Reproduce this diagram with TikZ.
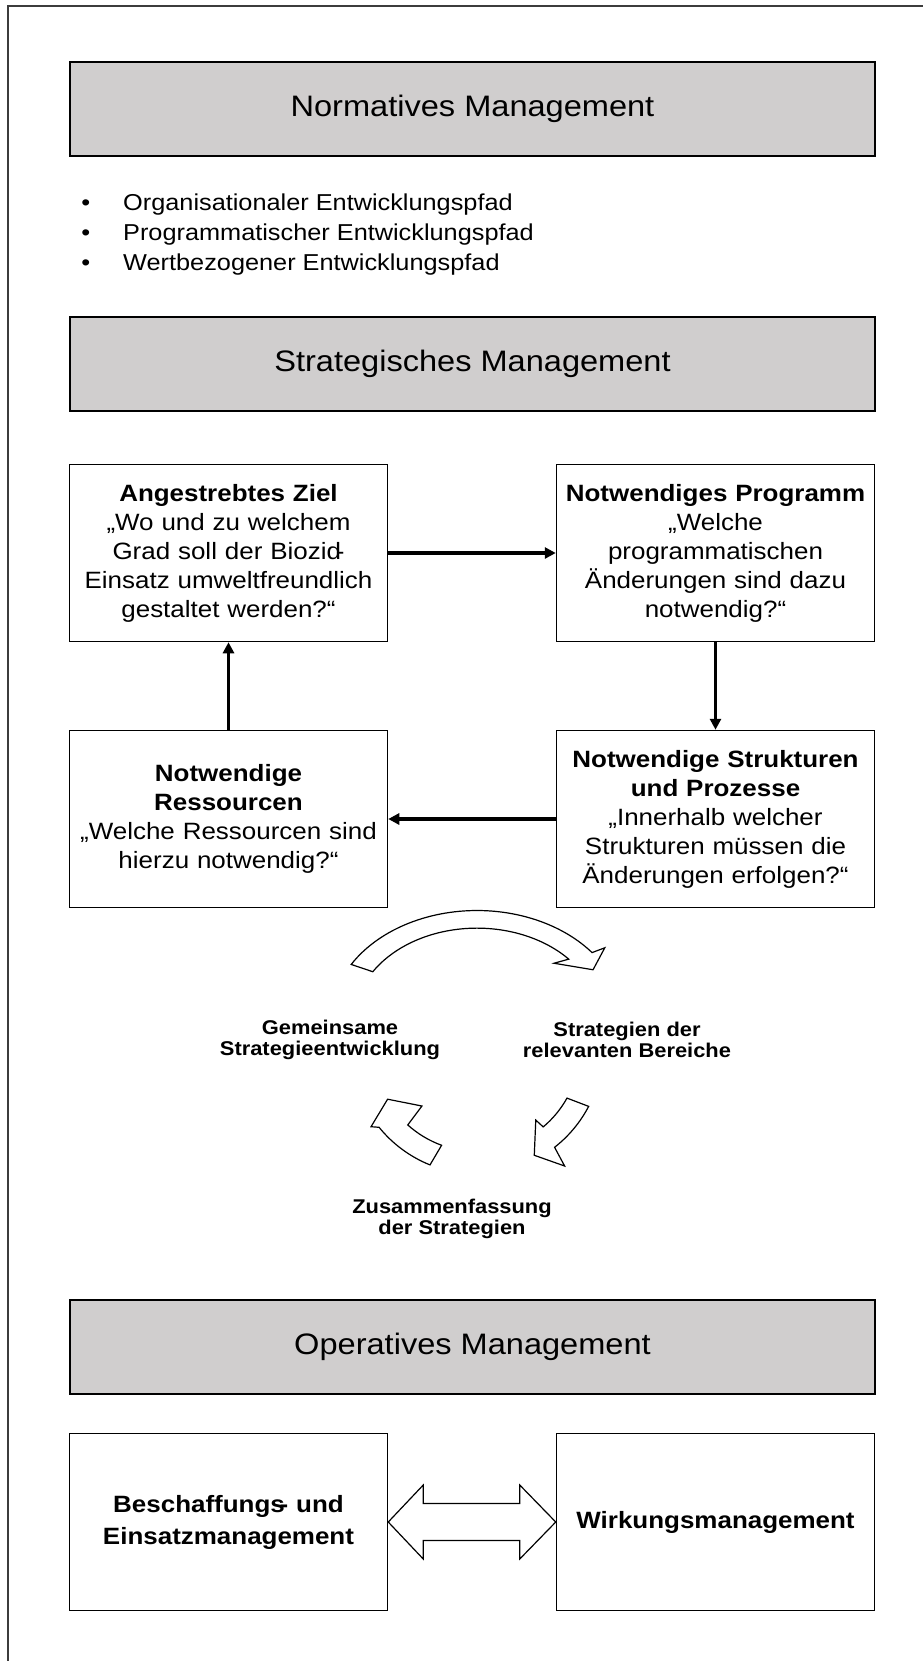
\documentclass[tikz,border=0pt]{standalone}
\usepackage{fontspec}
\setmainfont{Liberation Sans}[FakeStretch=1.1]
\usepackage{tikz}
\usetikzlibrary{arrows.meta,calc}
\definecolor{headgray}{RGB}{208,206,206}
\definecolor{framegray}{RGB}{60,60,60}
\newcommand{\ovhy}{\kern-0.22em-}

\begin{document}
\begin{tikzpicture}[x=1pt, y=-1pt, >={Triangle[length=11pt,width=11pt]},
        headbox/.style={draw, fill=headgray, line width=1.5pt, minimum width=805pt, minimum height=94pt, font=\fontsize{29.6}{35}\selectfont},
        infobox/.style={draw, line width=1.5pt, minimum width=318pt, minimum height=177pt, text width=310pt, align=center, inner sep=0pt, font=\fontsize{23.6}{29}\selectfont},
        pathitem/.style={anchor=base west, inner sep=0pt, font=\fontsize{23}{30}\selectfont},
        cyclabel/.style={align=center, inner sep=0pt, font=\fontsize{19.9}{21.2}\selectfont\bfseries},
        flow/.style={->, line width=3.2pt},
        bigarrow/.style={draw, fill=white, line width=1.2pt, line join=miter}]
        \useasboundingbox (0,0) rectangle (923,1661);

        % Frame
        \draw[framegray, line width=1.3pt] (8,1661) -- (8,6) -- (923,6);

        % Normative level
        \node[headbox] (norm) at (472.5,109) {Normatives Management};
        \foreach \txt [count=\i] in {Organisationaler Entwicklungspfad, Programmatischer Entwicklungspfad, Wertbezogener Entwicklungspfad}
            \node[pathitem] (path\i) at (123, 180.7+30*\i) {\llap{\textbullet\hspace{33pt}}\txt};

        % Strategic level
        \node[headbox] (strat) at (472.5,364) {Strategisches Management};
        \node[infobox] (ziel) at (228.5,553) {\textbf{Angestrebtes Ziel}\\„Wo und zu welchem\\Grad soll der Biozid\ovhy\\Einsatz umweltfreundlich\\gestaltet werden?“};
        \node[infobox] (prog) at (715.5,553) {\textbf{Notwendiges Programm}\\„Welche\\programmatischen\\Änderungen sind dazu\\notwendig?“};
        \node[infobox] (strukt) at (715.5,819) {\textbf{Notwendige Strukturen}\\\textbf{und Prozesse}\\„Innerhalb welcher\\Strukturen müssen die\\Änderungen erfolgen?“};
        \node[infobox] (ress) at (228.5,819) {\textbf{Notwendige}\\\textbf{Ressourcen}\\„Welche Ressourcen sind\\hierzu notwendig?“};

        \draw[flow] (ziel) -- (prog);
        \draw[flow] (prog) -- (strukt);
        \draw[flow] (strukt) -- (ress);
        \draw[flow] (ress) -- (ziel);

        % Strategy cycle
        \node[cyclabel] (joint) at (330,1040) {Gemeinsame\\Strategieentwicklung};
        \node[cyclabel] (areas) at (627,1040) {Strategien der\\relevanten Bereiche};
        \node[cyclabel] (merge) at (452,1219) {Zusammenfassung\\der Strategien};
        \begin{scope}[shift={(477,1020)}, yscale=0.75]
            \draw[bigarrow] (-149.5:146) arc[start angle=-149.5, end angle=-38, radius=146] -- (-37:160) -- (-30:134) -- (-44.5:108) -- (-41.5:122.5) arc[start angle=-41.5, end angle=-148.3, radius=122.5] -- cycle;
        \end{scope}
        \begin{scope}[shift={(477,1048)}]
            \draw[bigarrow] (27.6:126) arc[start angle=27.6, end angle=52, radius=126] -- (53.4:147) -- (61.9:121.6) -- (50.8:93) -- (50:103) arc[start angle=50, end angle=29.1, radius=103] -- cycle;
            \draw[bigarrow] (110:103.5) arc[start angle=110, end angle=132, radius=103.5] -- (133.5:80) -- (150.2:103) -- (143.4:132) -- (141:126) arc[start angle=141, end angle=111.9, radius=126] -- cycle;
        \end{scope}

        % Operative level
        \node[headbox] (oper) at (472.5,1347) {Operatives Management};
        \node[infobox, font=\fontsize{23.6}{32}\selectfont\bfseries] (besch) at (228.5,1522) {Beschaffungs\ovhy{} und\\Einsatzmanagement};
        \node[infobox, font=\fontsize{23.6}{32}\selectfont\bfseries] (wirk) at (715.5,1522) {Wirkungsmanagement};
        \draw[bigarrow] (besch.east) -- ++(35,-37) -- ++(0,18.5) -- ($(wirk.west)+(-36,-18.5)$) -- ++(0,-18.5) -- (wirk.west) -- ++(-36,37) -- ++(0,-18.5) -- ($(besch.east)+(35,18.5)$) -- ++(0,18.5) -- cycle;
    \end{tikzpicture}
\end{document}
